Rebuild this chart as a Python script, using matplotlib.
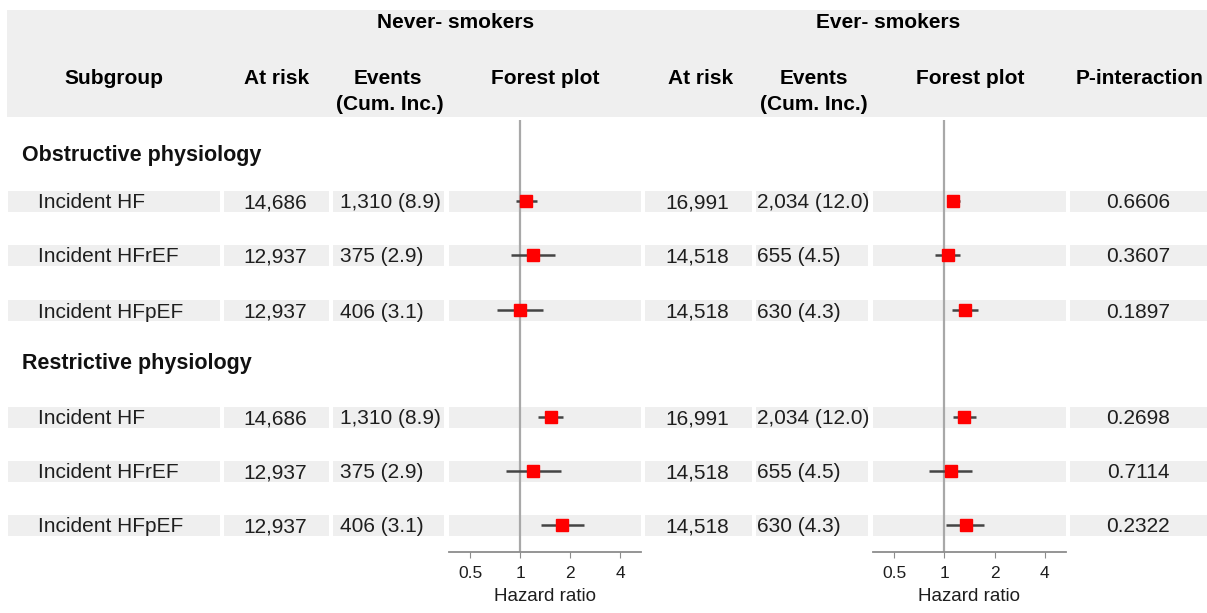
import matplotlib
matplotlib.use("Agg")
import matplotlib.pyplot as plt
from matplotlib.patches import Rectangle
from matplotlib.ticker import FixedLocator, NullLocator

plt.rcParams["font.family"] = ["Liberation Sans", "DejaVu Sans"]

# Table data
sections = ["Obstructive physiology", "Restrictive physiology"]
subgroups = ["Incident HF", "Incident HFrEF", "Incident HFpEF",
             "Incident HF", "Incident HFrEF", "Incident HFpEF"]
never_at_risk = ["14,686", "12,937", "12,937", "14,686", "12,937", "12,937"]
never_events = ["1,310 (8.9)", "375 (2.9)", "406 (3.1)",
                "1,310 (8.9)", "375 (2.9)", "406 (3.1)"]
ever_at_risk = ["16,991", "14,518", "14,518", "16,991", "14,518", "14,518"]
ever_events = ["2,034 (12.0)", "655 (4.5)", "630 (4.3)",
               "2,034 (12.0)", "655 (4.5)", "630 (4.3)"]
p_interaction = ["0.6606", "0.3607", "0.1897", "0.2698", "0.7114", "0.2322"]

# Hazard ratios with 95% CI
never_hr = [1.09, 1.20, 1.00, 1.53, 1.20, 1.78]
never_lo = [0.95, 0.88, 0.73, 1.28, 0.82, 1.33]
never_hi = [1.27, 1.62, 1.38, 1.82, 1.76, 2.44]
ever_hr = [1.13, 1.05, 1.32, 1.31, 1.10, 1.34]
ever_lo = [1.05, 0.88, 1.11, 1.12, 0.81, 1.02]
ever_hi = [1.24, 1.24, 1.59, 1.54, 1.47, 1.73]

hr_ticks = [0.5, 1, 2, 4]

# layout in pixels
W, H = 1207, 613
section_y = [156, 364]
row_y = [201, 255, 310, 417, 471, 525]
band_h = 21
cells = [(8, 220), (224, 329), (333, 444), (449, 641),
         (645, 752), (756, 868), (873, 1066), (1070, 1207)]
grey = "#efefef"
txt = "#1e1e1e"
fs = 15
base = 7.5  # baseline offset below the row centre

fig = plt.figure(figsize=(W / 100, H / 100), dpi=100)
bg = fig.add_axes([0, 0, 1, 1])
bg.set_xlim(0, W)
bg.set_ylim(H, 0)
bg.axis("off")

# header band
bg.add_patch(Rectangle((7, 10), W - 7, 107, color=grey, lw=0))
bg.text(456, 23, "Never- smokers", ha="center", va="center", fontsize=fs, fontweight="bold")
bg.text(888, 23, "Ever- smokers", ha="center", va="center", fontsize=fs, fontweight="bold")
heads = [(114, "Subgroup"), (277, "At risk"), (388, "Events"), (545, "Forest plot"),
         (701, "At risk"), (814, "Events"), (970, "Forest plot"), (1140, "P-interaction")]
for x, s in heads:
    bg.text(x, 78, s, ha="center", va="center", fontsize=fs, fontweight="bold")
for x in [390, 814]:
    bg.text(x, 104, "(Cum. Inc.)", ha="center", va="center", fontsize=fs, fontweight="bold")

for y, s in zip(section_y, sections):
    bg.text(22, y, s, ha="left", va="center", fontsize=fs + 0.5, fontweight="bold", color="#111111")

for i, y in enumerate(row_y):
    for x0, x1 in cells:
        bg.add_patch(Rectangle((x0, y - band_h / 2), x1 - x0, band_h, color=grey, lw=0))
    ty = y + base
    kw = dict(va="baseline", fontsize=fs, color=txt)
    bg.text(38, ty, subgroups[i], ha="left", **kw)
    bg.text(307, ty, never_at_risk[i], ha="right", **kw)
    bg.text(340, ty, never_events[i], ha="left", **kw)
    bg.text(729, ty, ever_at_risk[i], ha="right", **kw)
    bg.text(757, ty, ever_events[i], ha="left", **kw)
    bg.text(1138, ty, p_interaction[i], ha="center", **kw)


def forest(x0, x1, hr, lo, hi):
    top, bottom = 120, 552
    ax = fig.add_axes([x0 / W, 1 - bottom / H, (x1 - x0) / W, (bottom - top) / H])
    ax.patch.set_alpha(0)
    ax.set_xscale("log", base=2)
    ax.set_xlim(0.373, 5.35)
    ax.set_ylim(bottom, top)
    ax.axvline(1, color="#a8a8a8", lw=1.6, zorder=1)
    ax.hlines(row_y, lo, hi, color="#444444", lw=1.8, zorder=2)
    ax.plot(hr, row_y, "s", color="#ff0000", ms=8.5, mec="#ff0000", zorder=3)
    for side in ["top", "right", "left"]:
        ax.spines[side].set_visible(False)
    ax.spines["bottom"].set_color("#8c8c8c")
    ax.spines["bottom"].set_linewidth(1.3)
    ax.xaxis.set_major_locator(FixedLocator(hr_ticks))
    ax.xaxis.set_minor_locator(NullLocator())
    ax.set_xticklabels(["0.5", "1", "2", "4"])
    ax.tick_params(axis="x", direction="out", length=4, color="#8c8c8c", labelsize=12.5,
                   pad=6, labelcolor=txt)
    ax.set_yticks([])
    ax.set_xlabel("Hazard ratio", fontsize=13.5, labelpad=5, color=txt)
    return ax


forest(449, 641, never_hr, never_lo, never_hi)
forest(873, 1066, ever_hr, ever_lo, ever_hi)

fig.savefig("out.png", dpi=100)
